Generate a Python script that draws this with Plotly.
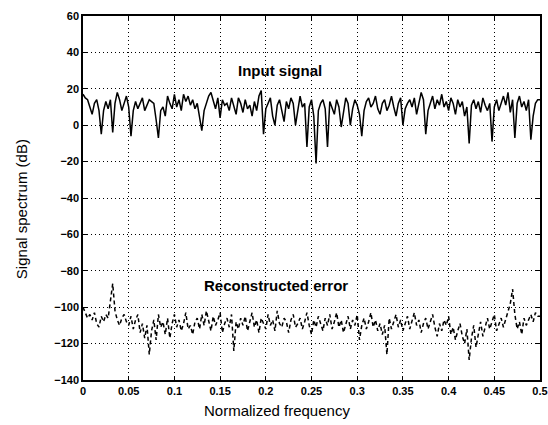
import numpy as np
import plotly.graph_objects as go

# Normalized frequency grid (0 .. 0.5, step 0.0025)
freq = np.round(np.arange(0, 0.5001, 0.0025), 4)

# Input signal spectrum (dB)
input_db = [
    17, 15, 14, 10, 6, 12, 14, 8, -5, 8,
    13, 9, 14, -4, 12, 18, 14, 8, 12, 16,
    10, -6, 8, 13, 9, 12, 15, 8, 11, 14,
    13, 12, 3, -7, 8, 10, 5, 16, 12, 9,
    17, 10, 14, 8, 17, 13, 16, 11, 14, 9,
    12, 3, -3, 8, 12, 16, 18, 13, 9, 15,
    4, 14, 11, 12, 8, 15, 10, 6, 15, 12,
    7, 14, 9, 11, 5, 13, 8, 16, 19, -5,
    9, 12, 15, 5, 0, 11, 14, 8, 2, 13,
    9, 15, 12, 0, 8, 16, 10, 12, -12, 10,
    14, 5, -21, 8, 12, 14, 9, -12, 13, 10,
    6, 14, 10, -1, 7, 15, 12, 0, 9, 14,
    11, 6, -6, 8, 13, 15, 10, 12, 16, 9,
    6, 12, 14, 8, 11, 16, 10, 5, 12, 15,
    0, 9, 12, 14, 10, 15, 6, 12, 18, 14,
    -5, 8, 12, 16, 9, 14, 11, 17, 10, 13,
    8, 15, 12, 6, 14, 10, 13, 5, 10, -10,
    11, 14, 9, 13, 7, 15, 11, 8, 12, -9,
    10, 14, 8, 12, 16, 11, 18, 7, 14, -7,
    12, 16, 10, 13, 8, 14, -8, 5, 12, 14,
    14,
]

# Reconstruction error spectrum (dB)
error_db = [
    -100, -103, -106, -104, -107, -103, -109, -111, -105, -108,
    -104, -106, -96, -87, -102, -107, -110, -106, -104, -108,
    -110, -105, -112, -107, -104, -114, -109, -117, -110, -126,
    -113, -107, -118, -104, -111, -108, -115, -106, -117, -109,
    -104, -111, -107, -113, -109, -103, -112, -110, -115, -108,
    -106, -112, -104, -110, -102, -108, -113, -105, -110, -107,
    -103, -114, -109, -106, -111, -104, -124, -108, -112, -106,
    -110, -105, -113, -108, -103, -111, -107, -114, -106, -109,
    -112, -104, -110, -107, -113, -102, -109, -111, -106, -108,
    -114, -107, -104, -111, -109, -106, -112, -108, -103, -110,
    -115, -107, -111, -105, -109, -113, -106, -110, -104, -112,
    -108, -103, -111, -107, -114, -109, -105, -112, -107, -110,
    -104, -118, -110, -106, -112, -108, -103, -111, -107, -113,
    -109, -115, -110, -126, -106, -112, -108, -104, -111, -107,
    -113, -109, -105, -112, -108, -103, -110, -107, -114, -109,
    -106, -112, -108, -104, -111, -116, -109, -113, -107, -110,
    -105, -115, -111, -118, -113, -109, -116, -120, -112, -129,
    -117, -110, -122, -114, -108, -116, -111, -106, -112, -108,
    -104, -113, -109, -106, -111, -107, -103, -98, -90, -104,
    -112, -108, -115, -106, -110, -107, -104, -108, -103, -105,
    -105,
]

x_ticks = [0, 0.05, 0.1, 0.15, 0.2, 0.25, 0.3, 0.35, 0.4, 0.45, 0.5]
x_tick_text = ["0", "0.05", "0.1", "0.15", "0.2", "0.25", "0.3", "0.35", "0.4", "0.45", "0.5"]
y_ticks = [-140, -120, -100, -80, -60, -40, -20, 0, 20, 40, 60]

FONT = "Liberation Sans, Arial, sans-serif"

fig = go.Figure()
fig.add_trace(go.Scatter(
    x=freq, y=input_db, mode="lines",
    line=dict(color="black", width=1.5), showlegend=False,
))
fig.add_trace(go.Scatter(
    x=freq, y=error_db, mode="lines",
    line=dict(color="black", width=1.5, dash="4px,3px"), showlegend=False,
))

# In-plot labels for the two curves
fig.add_annotation(x=0.216, y=30, text="Input signal", showarrow=False,
                   font=dict(family=FONT, size=15, color="black", weight="bold"))
fig.add_annotation(x=0.211, y=-88, text="Reconstructed error", showarrow=False,
                   font=dict(family=FONT, size=15, color="black", weight="bold"))

# Axis titles
fig.add_annotation(xref="paper", yref="paper", x=0.425, y=-0.085,
                   xanchor="center", yanchor="middle",
                   text="Normalized frequency", showarrow=False,
                   font=dict(family=FONT, size=15, color="black"))
fig.add_annotation(xref="paper", yref="paper", x=-0.133, y=0.47,
                   xanchor="center", yanchor="middle", textangle=-90,
                   text="Signal spectrum (dB)", showarrow=False,
                   font=dict(family=FONT, size=15, color="black"))

axis_common = dict(
    showline=True, linecolor="black", linewidth=1.5, mirror="ticks",
    ticks="inside", ticklen=4, tickcolor="black",
    showgrid=True, gridcolor="black", gridwidth=1, griddash="1px,3px",
    zeroline=False, automargin=False,
    tickfont=dict(family=FONT, size=11, color="black", weight="bold"),
)

fig.update_xaxes(range=[0, 0.5], tickvals=x_ticks, ticktext=x_tick_text, **axis_common)
fig.update_yaxes(range=[-140, 60], tickvals=y_ticks, **axis_common)

fig.update_layout(
    width=548, height=425,
    margin=dict(l=83, r=8, t=16, b=45),
    paper_bgcolor="white", plot_bgcolor="white",
)

fig.write_html("out.html")
